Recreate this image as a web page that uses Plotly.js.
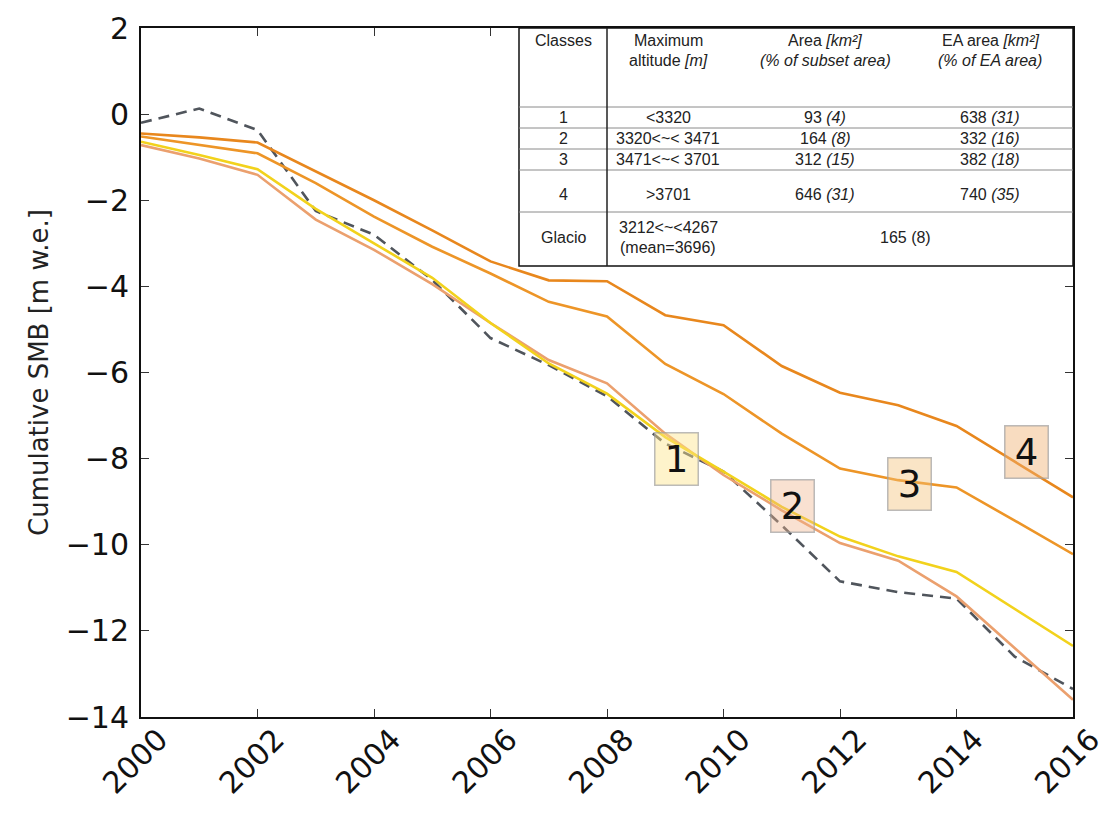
<!DOCTYPE html>
<html>
<head>
<meta charset="utf-8">
<script src="https://cdn.plot.ly/plotly-3.0.1.min.js"></script>
<style>
html,body{margin:0;padding:0;background:#fff;}
#chart{width:1116px;height:816px;}
</style>
</head>
<body>
<div id="chart"></div>
<script>
// ---------------- DATA ----------------
const years = [2000,2001,2002,2003,2004,2005,2006,2007,2008,2009,2010,2011,2012,2013,2014,2015,2016];
const class1 = [-0.64,-0.95,-1.28,-2.20,-3.00,-3.80,-4.85,-5.79,-6.49,-7.50,-8.30,-9.12,-9.81,-10.27,-10.63,-11.50,-12.35];
const class2 = [-0.72,-1.03,-1.41,-2.45,-3.15,-3.95,-4.85,-5.71,-6.25,-7.42,-8.38,-9.20,-9.96,-10.37,-11.20,-12.40,-13.60];
const class3 = [-0.52,-0.72,-0.91,-1.60,-2.38,-3.08,-3.70,-4.36,-4.70,-5.80,-6.50,-7.42,-8.23,-8.50,-8.67,-9.44,-10.22];
const class4 = [-0.45,-0.54,-0.66,-1.33,-2.00,-2.70,-3.42,-3.86,-3.88,-4.67,-4.90,-5.85,-6.47,-6.76,-7.24,-8.07,-8.90];
const glacio = [-0.20,0.13,-0.37,-2.25,-2.80,-3.85,-5.20,-5.83,-6.55,-7.65,-8.30,-9.55,-10.85,-11.10,-11.25,-12.60,-13.35];

const tickYears = [2000,2002,2004,2006,2008,2010,2012,2014,2016];
const tickLabels = ['2000','2002','2004','2006','2008','2010','2012','2014','2016'];
const yTicks = [2,0,-2,-4,-6,-8,-10,-12,-14];

const classLabels = ['1','2','3','4'];
const yAxisTitle = 'Cumulative SMB [m w.e.]';

// table content
const tableHeader = [
  ['Classes'],
  ['Maximum','altitude <i>[m]</i>'],
  ['Area <i>[km²]</i>','<i>(% of subset area)</i>'],
  ['EA area <i>[km²]</i>','<i>(% of EA area)</i>']
];
const tableClasses = ['1','2','3','4'];
const tableAltitude = ['<3320','3320<~< 3471','3471<~< 3701','>3701'];
const tableArea = ['93 <i>(4)</i>','164 <i>(8)</i>','312 <i>(15)</i>','646 <i>(31)</i>'];
const tableEA = ['638 <i>(31)</i>','332 <i>(16)</i>','382 <i>(18)</i>','740 <i>(35)</i>'];
const glacioRow = ['Glacio','3212<~<4267','(mean=3696)','165 (8)'];

// ---------------- STYLE ----------------
const W = 1116, H = 816;
const PL = 141, PR = 1073, PT = 28, PB = 717;
const px = x => (x - PL) / (PR - PL);
const py = y => (PB - y) / (PB - PT);

const traces = [
  {x: years, y: glacio, mode:'lines', line:{color:'#50555c', width:2.6, dash:'11px,7px'}},
  {x: years, y: class2, mode:'lines', line:{color:'#eba06e', width:2.6}},
  {x: years, y: class1, mode:'lines', line:{color:'#f2d21c', width:2.6}},
  {x: years, y: class3, mode:'lines', line:{color:'#ed9527', width:2.6}},
  {x: years, y: class4, mode:'lines', line:{color:'#e8871d', width:2.6}}
];

const annotations = [];
const shapes = [];

// class labels
const labelAnchors = [[2009.2,-8.0],[2011.18,-9.1],[2013.2,-8.6],[2015.2,-7.85]];
const labelBg = ['rgba(252,228,140,0.45)','rgba(240,180,140,0.40)','rgba(244,192,120,0.42)','rgba(240,178,115,0.45)'];
classLabels.forEach((t,i)=>{
  annotations.push({x:labelAnchors[i][0], y:labelAnchors[i][1], xref:'x', yref:'y', text:t, showarrow:false,
    font:{family:'DejaVu Sans', size:37, color:'#111'}, bgcolor:labelBg[i], bordercolor:'rgba(160,160,160,0.7)',
    borderwidth:1.5, borderpad:3, width:36, height:45, xanchor:'center', yanchor:'middle'});
});

// table
const TL = 519, TR = 1073, TT = 28, TB = 266, TC = 607;
const rowLines = [107, 128, 149, 170, 212];
shapes.push({type:'rect', xref:'paper', yref:'paper', x0:px(TL), x1:px(TR), y0:py(TB), y1:py(TT),
  fillcolor:'#ffffff', line:{color:'#111', width:1.5}, layer:'above'});
rowLines.forEach(y=>{
  shapes.push({type:'line', xref:'paper', yref:'paper', x0:px(TL), x1:px(TR), y0:py(y), y1:py(y),
    line:{color:'#8a8a8a', width:1}, layer:'above'});
});
shapes.push({type:'line', xref:'paper', yref:'paper', x0:px(TC), x1:px(TC), y0:py(TB), y1:py(TT),
  line:{color:'#222', width:1.5}, layer:'above'});

const colX = [563, 668, 825, 990];
const tfont = {family:'Liberation Sans, Arial', size:16, color:'#222'};
function tText(x, y, t){
  annotations.push({x:px(x), y:py(y), xref:'paper', yref:'paper', text:t, showarrow:false,
    font:tfont, xanchor:'center', yanchor:'middle'});
}
tableHeader.forEach((lines,i)=>{
  lines.forEach((t,j)=> tText(colX[i], 40 + j*21, t));
});
const rowY = [117, 138, 159, 194];
for (let r=0;r<4;r++){
  tText(colX[0], rowY[r], tableClasses[r]);
  tText(colX[1], rowY[r], tableAltitude[r]);
  tText(colX[2], rowY[r], tableArea[r]);
  tText(colX[3], rowY[r], tableEA[r]);
}
tText(colX[0], 238, glacioRow[0]);
tText(colX[1], 227, glacioRow[1]);
tText(colX[1], 248, glacioRow[2]);
tText(905, 238, glacioRow[3]);

const axisFont = {family:'DejaVu Sans', size:30, color:'#111'};
const layout = {
  width: W, height: H,
  margin:{l:PL, r:W-PR, t:PT, b:H-PB, pad:0},
  paper_bgcolor:'#ffffff', plot_bgcolor:'#ffffff',
  showlegend:false,
  xaxis:{range:[2000,2016], tickmode:'array', tickvals:tickYears, ticktext:tickLabels, tickangle:-45,
    ticks:'inside', ticklen:8, tickwidth:1, tickcolor:'#333', showline:true, linecolor:'#111', linewidth:2,
    mirror:'ticks', showgrid:false, zeroline:false, tickfont:axisFont, ticklabelshift:18, ticklabelstandoff:-9,
    ticklabeloverflow:'allow'},
  yaxis:{range:[-14,2], tickmode:'array', tickvals:yTicks, ticks:'inside', ticklen:8, tickwidth:1, tickcolor:'#333',
    showline:true, linecolor:'#111', linewidth:2, mirror:'ticks', showgrid:false, zeroline:false,
    tickfont:axisFont, ticklabelstandoff:4,
    title:{text:yAxisTitle, font:{family:'DejaVu Sans', size:26, color:'#222'}, standoff:10}},
  shapes: shapes,
  annotations: annotations
};

Plotly.newPlot('chart', traces, layout, {displayModeBar:false, staticPlot:true});
</script>
</body>
</html>
